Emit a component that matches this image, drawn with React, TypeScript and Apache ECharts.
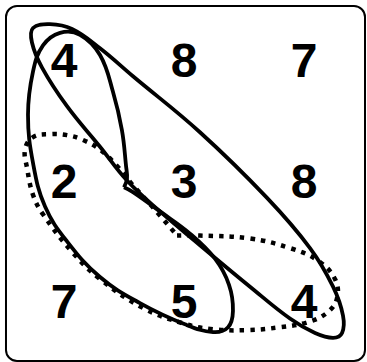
import React, { useEffect, useRef } from "react";
import * as echarts from "echarts";

// grid of numbers (row by row, top to bottom)
const columnIndex = [0, 1, 2];
const rowIndex = [0, 1, 2];
const cellValues: number[][] = [
  [4, 8, 7],
  [2, 3, 8],
  [7, 5, 4],
];

// loop outlines in cell units (x: column, y: row from top)
const loopA: [number, number][] = [
  [0.242, 0.232], [0.383, 0.2], [0.567, 0.24], [0.8, 0.4], [1.075, 0.632],
  [1.633, 1.096], [2.192, 1.64], [2.55, 2.056], [2.742, 2.376], [2.825, 2.616],
  [2.817, 2.76], [2.742, 2.8], [2.592, 2.76], [2.383, 2.64], [2.05, 2.376],
  [1.633, 2.032], [1.3, 1.752], [1.025, 1.496], [0.8, 1.216], [0.525, 0.88],
  [0.317, 0.56], [0.233, 0.352],
];

const loopB: [number, number][] = [
  [1.0, 1.552], [1.075, 1.592], [1.3, 1.752], [1.55, 1.936], [1.758, 2.144],
  [1.875, 2.36], [1.908, 2.576], [1.867, 2.712], [1.742, 2.752], [1.508, 2.688],
  [1.133, 2.512], [0.8, 2.296], [0.525, 2.0], [0.342, 1.712], [0.242, 1.352],
  [0.2, 0.952], [0.242, 0.592], [0.325, 0.376], [0.467, 0.272], [0.633, 0.288],
  [0.8, 0.456], [0.908, 0.76], [0.983, 1.08], [1.017, 1.376], [1.025, 1.48],
  [1.0, 1.552],
];

const loopC: [number, number][] = [
  [1.442, 1.952], [1.633, 1.952], [2.05, 1.976], [2.383, 2.056], [2.617, 2.16],
  [2.758, 2.312], [2.775, 2.472], [2.692, 2.592], [2.525, 2.672], [2.3, 2.712],
  [2.025, 2.736], [1.742, 2.728], [1.492, 2.68], [1.158, 2.552], [0.8, 2.312],
  [0.575, 2.096], [0.325, 1.776], [0.242, 1.616], [0.192, 1.392], [0.175, 1.24],
  [0.242, 1.136], [0.383, 1.112], [0.525, 1.12], [0.658, 1.16], [0.8, 1.24],
  [0.942, 1.376], [1.075, 1.536], [1.242, 1.72], [1.442, 1.952],
];

export default function App() {
  const ref = useRef<HTMLDivElement>(null);

  useEffect(() => {
    if (!ref.current) return;
    const chart = echarts.init(ref.current, null, { renderer: "svg" });

    const numberData: [number, number, number][] = [];
    rowIndex.forEach((r) =>
      columnIndex.forEach((c) => numberData.push([c + 0.5, r + 0.5, cellValues[r][c]]))
    );

    const loopSeries = (name: string, pts: [number, number][], closed: boolean, dashed: boolean) => ({
      name,
      type: "custom",
      coordinateSystem: "cartesian2d",
      clip: false,
      silent: true,
      z: 3,
      data: [pts[0]],
      renderItem: (_params: any, api: any) => ({
        type: closed ? "polygon" : "polyline",
        shape: { points: pts.map((p) => api.coord(p)), smooth: 0.4 },
        style: {
          fill: "none",
          stroke: "#000",
          lineWidth: dashed ? 4.5 : 3.8,
          lineDash: dashed ? [4.5, 6] : null,
          lineCap: "butt",
          lineJoin: "round",
        },
      }),
    });

    chart.setOption({
      animation: false,
      backgroundColor: "#fff",
      grid: { left: 4, top: -2, width: 360, height: 375, containLabel: false },
      xAxis: { type: "value", min: 0, max: 3, show: false },
      yAxis: { type: "value", min: 0, max: 3, inverse: true, show: false },
      graphic: [
        {
          type: "rect",
          shape: { x: 6, y: 6, width: 359, height: 355, r: 11 },
          style: { fill: "none", stroke: "#000", lineWidth: 2 },
          z: 10,
          silent: true,
        },
      ],
      series: [
        {
          name: "numbers",
          type: "custom",
          coordinateSystem: "cartesian2d",
          silent: true,
          z: 2,
          data: numberData,
          renderItem: (_params: any, api: any) => {
            const pt = api.coord([api.value(0), api.value(1)]);
            return {
              type: "text",
              x: pt[0],
              y: pt[1],
              style: {
                text: String(api.value(2)),
                x: 0,
                y: 0,
                align: "center",
                verticalAlign: "middle",
                fill: "#000",
                font: "bold 48px 'Liberation Sans', Arial, sans-serif",
              },
            };
          },
        },
        loopSeries("A", loopA, true, false),
        loopSeries("B", loopB, false, false),
        loopSeries("C", loopC, false, true),
      ],
    });

    return () => chart.dispose();
  }, []);

  return (
    <div
      ref={ref}
      style={{ position: "absolute", left: 0, top: 0, width: 367, height: 362, background: "#fff" }}
    />
  );
}
